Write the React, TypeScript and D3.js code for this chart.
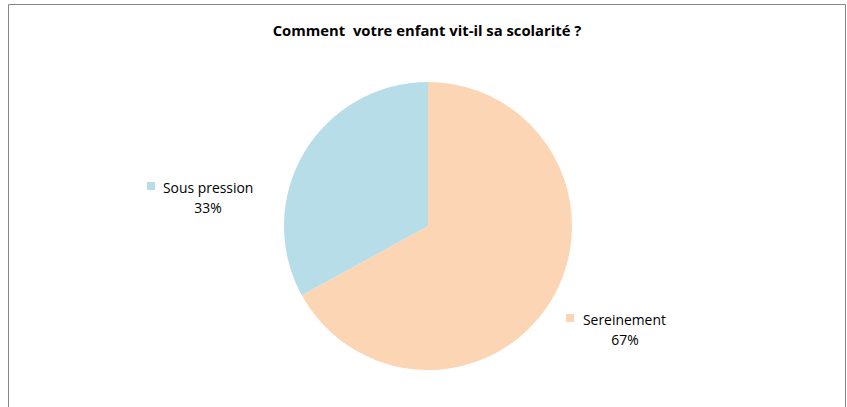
import React from "react";
import * as d3 from "d3";

const categories = ["Sereinement", "Sous pression"];
const values = [67, 33];
const percentLabels = ["67%", "33%"];
const colors = ["#FCD5B5", "#B7DDE8"];
const title = "Comment  votre enfant vit-il sa scolarité ?";

const W = 847;
const H = 407;

export default function App() {
  const cx = 428;
  const cy = 226;
  const r = 144;
  const pie = d3.pie<number>().sort(null).startAngle(0).endAngle(2 * Math.PI);
  const arcs = pie(values);
  const arc = d3.arc<d3.PieArcDatum<number>>().innerRadius(0).outerRadius(r);
  const labelPos = [
    { sx: 566, sy: 314, tx: 583, ty: 325, px: 625, py: 345 },
    { sx: 147, sy: 182, tx: 163, ty: 193, px: 208, py: 213 },
  ];
  const font = "'Open Sans', 'Noto Sans', sans-serif";
  return (
    <svg width={W} height={H} style={{ position: "absolute", left: 0, top: 0 }}>
      <rect x={0} y={0} width={W} height={H} fill="#fff" />
      <path d={`M8.5,${H} V4.5 H845.5 V${H}`} fill="none" stroke="#868686" strokeWidth={1} />
      <text x={427} y={36} textAnchor="middle" fontFamily={font} fontWeight="bold" fontSize={14.8} fill="#000" style={{ whiteSpace: "pre" }}>
        {title}
      </text>
      <g transform={`translate(${cx},${cy})`}>
        {arcs.map((a, i) => (
          <path key={i} d={arc(a) || ""} fill={colors[i]} />
        ))}
      </g>
      {categories.map((c, i) => {
        const p = labelPos[i];
        return (
          <g key={c} fontFamily={font} fontSize={13.9} fill="#000">
            <rect x={p.sx} y={p.sy} width={8} height={8} fill={colors[i]} />
            <text x={p.tx} y={p.ty}>{c}</text>
            <text x={p.px} y={p.py} textAnchor="middle">{percentLabels[i]}</text>
          </g>
        );
      })}
    </svg>
  );
}
